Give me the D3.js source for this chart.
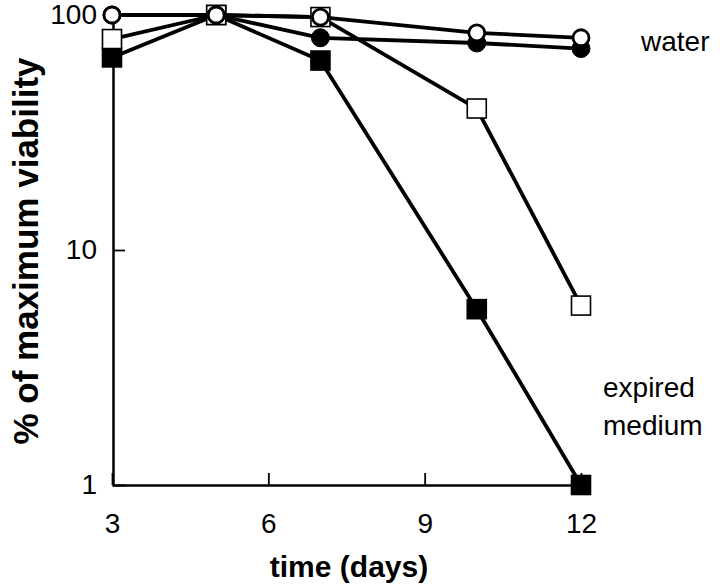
<!DOCTYPE html>
<html>
<head>
<meta charset="utf-8">
<script src="https://cdn.jsdelivr.net/npm/d3@7/dist/d3.min.js"></script>
<style>
  body { margin: 0; background: #fff; }
  svg { display: block; font-family: "Liberation Sans", Arial, sans-serif; }
  .axis path, .axis line { stroke: #000; }
  .axis path { stroke-width: 2.5px; }
  .axis line { stroke-width: 1.8px; }
  .axis text { font-size: 28px; fill: #000; }
  .series { fill: none; stroke: #000; stroke-width: 3.8px; stroke-linejoin: round; }
</style>
</head>
<body>
<div id="chart"></div>
<script>
  // days sampled
  const days = [3, 5, 7, 10, 12];

  // % of maximum viability for each treatment
  const filledSquare = [66, 100, 64, 5.6, 1];
  const openSquare = [79, 100, 98, 40, 5.8];
  const filledCircle = [100, 100, 80, 76, 72];
  const openCircle = [100, 100, 98, 84, 80];

  const xTicks = [3, 6, 9, 12];
  const yTicks = [1, 10, 100];

  const width = 720;
  const height = 584;

  let svg = d3.select('#chart').append('svg')
    .attr('width', width)
    .attr('height', height);

  let x = d3.scaleLinear().domain([3, 12]).range([112, 581]);
  let y = d3.scaleLog().domain([1, 100]).range([485, 15]);

  svg.append('g')
    .attr('class', 'axis axis--x')
    .attr('transform', 'translate(0,485)')
    .call(d3.axisBottom(x).tickValues(xTicks).tickSizeInner(-12).tickSizeOuter(0).tickPadding(28));

  svg.append('g')
    .attr('class', 'axis axis--y')
    .attr('transform', 'translate(113,0)')
    .call(d3.axisLeft(y).tickValues(yTicks).tickFormat(d3.format('d')).tickSizeInner(-12).tickSizeOuter(0).tickPadding(16));

  // axis titles
  svg.append('text')
    .attr('x', 349)
    .attr('y', 577)
    .attr('text-anchor', 'middle')
    .style('font-size', '30px')
    .style('font-weight', 'bold')
    .text('time (days)');

  svg.append('text')
    .attr('transform', 'translate(38,251) rotate(-90)')
    .attr('text-anchor', 'middle')
    .style('font-size', '35px')
    .style('font-weight', 'bold')
    .text('% of maximum viability');

  // annotations
  svg.append('text').attr('x', 641).attr('y', 51).style('font-size', '28px').text('water');
  svg.append('text').attr('x', 603).attr('y', 397).style('font-size', '28px').text('expired');
  svg.append('text').attr('x', 603).attr('y', 435).style('font-size', '28px').text('medium');

  let series = [
    { values: filledSquare, shape: 'square', filled: true },
    { values: openSquare, shape: 'square', filled: false },
    { values: filledCircle, shape: 'circle', filled: true },
    { values: openCircle, shape: 'circle', filled: false }
  ];

  let line = d3.line()
    .x(function(d, i) { return x(days[i]); })
    .y(function(d) { return y(d); });

  series.forEach(function(s) {
    svg.append('path')
      .attr('class', 'series')
      .attr('d', line(s.values));
  });

  series.forEach(function(s) {
    let g = svg.append('g');
    if (s.shape === 'square') {
      g.selectAll('rect')
        .data(s.values)
        .enter()
        .append('rect')
        .attr('x', function(d, i) { return x(days[i]) - 9.5; })
        .attr('y', function(d) { return y(d) - 9.5; })
        .attr('width', 19)
        .attr('height', 19)
        .attr('fill', s.filled ? '#000' : '#fff')
        .attr('stroke', '#000')
        .attr('stroke-width', 1.6);
    } else {
      g.selectAll('circle')
        .data(s.values)
        .enter()
        .append('circle')
        .attr('cx', function(d, i) { return x(days[i]); })
        .attr('cy', function(d) { return y(d); })
        .attr('r', s.filled ? 9 : 8)
        .attr('fill', s.filled ? '#000' : '#fff')
        .attr('stroke', '#000')
        .attr('stroke-width', s.filled ? 1 : 2.8);
    }
  });
</script>
</body>
</html>
